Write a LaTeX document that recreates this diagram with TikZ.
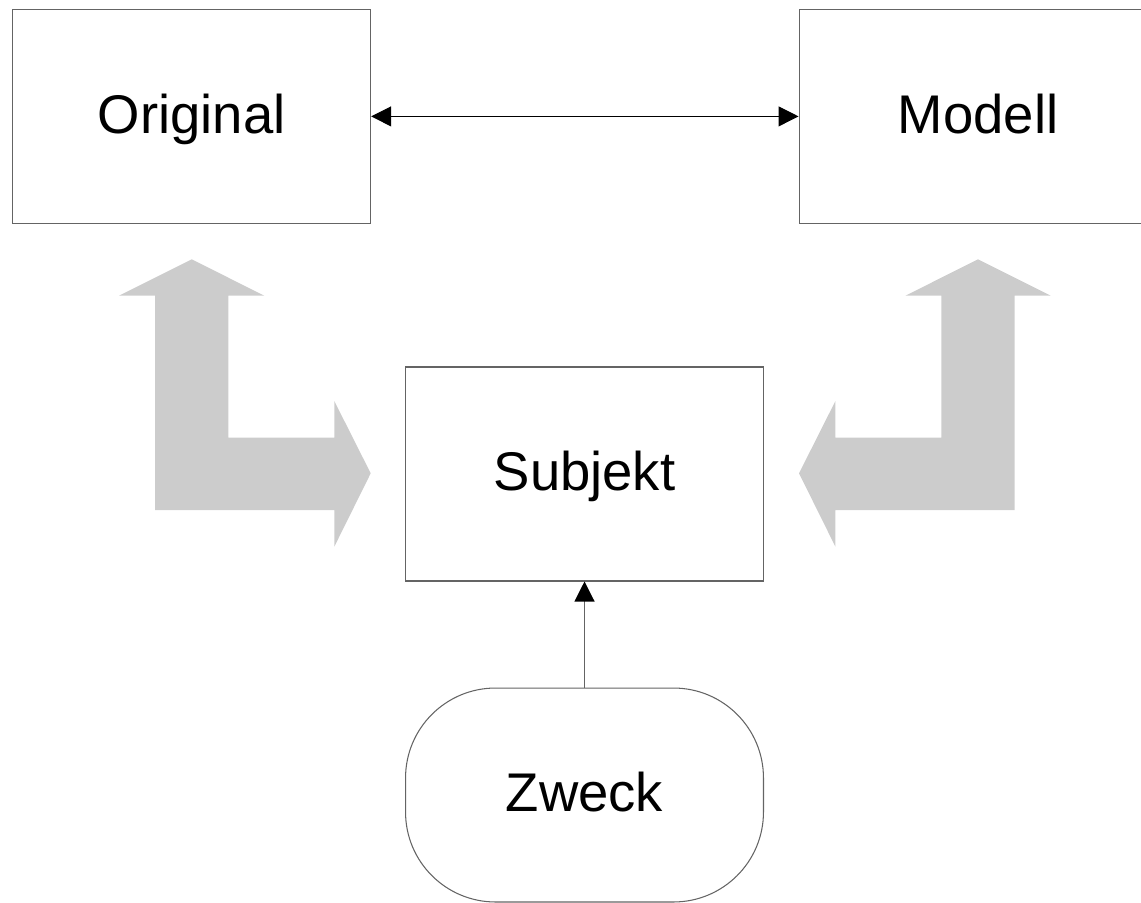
\documentclass[tikz,border=0pt]{standalone}
\usepackage{fontspec}
\setmainfont{Liberation Sans}
\usetikzlibrary{arrows.meta}

\definecolor{arrowgray}{RGB}{204,204,204}
\definecolor{linegray}{RGB}{100,100,100}

\begin{document}
\begin{tikzpicture}[x=0.02cm, y=-0.02cm]

\def\width{1141}
\def\height{902}

\tikzset{
  box/.style={draw=linegray, line width=0.6pt, fill=white, inner sep=0pt,
    minimum width=7.16cm, minimum height=4.28cm, font=\fontsize{31}{37}\selectfont,
    text height=22.3pt, text depth=3.4pt},
  linkarrow/.style={-{Triangle[length=0.4cm, width=0.4cm, color=black]}},
  bentarrow/.style={fill=arrowgray}
}

\path [use as bounding box] (0,0) rectangle (\width,\height);
\clip (0,0) rectangle (\width,\height);

% BENT ARROWS
\path [bentarrow] (191.7,259.3) -- (264.3,295.7) -- (228.3,295.7) -- (228.3,437.7)
  -- (334.3,437.7) -- (334.3,401) -- (370.7,473.3) -- (334.3,546.7)
  -- (334.3,510) -- (155,510) -- (155,295.7) -- (119,295.7) -- cycle;
\begin{scope}[shift={(1169.7,0)}, xscale=-1]
\path [bentarrow] (191.7,259.3) -- (264.3,295.7) -- (228.3,295.7) -- (228.3,437.7)
  -- (334.3,437.7) -- (334.3,401) -- (370.7,473.3) -- (334.3,546.7)
  -- (334.3,510) -- (155,510) -- (155,295.7) -- (119,295.7) -- cycle;
\end{scope}

% BOXES
\node [box] (original) at (191.7,116.4) {Original};
\node [box] (modell) at (978,116.4) {Modell};
\node [box] (subjekt) at (584.5,474) {Subjekt};
\node [box, rounded corners=1.8cm] (zweck) at (584.5,795) {Zweck};

% LINKS
\draw [line width=0.6pt, {Triangle[length=0.4cm, width=0.4cm]}-{Triangle[length=0.4cm, width=0.4cm]}] (original) -- (modell);
\draw [linkarrow, draw=linegray, line width=0.6pt] (zweck) -- (subjekt);

\end{tikzpicture}
\end{document}
